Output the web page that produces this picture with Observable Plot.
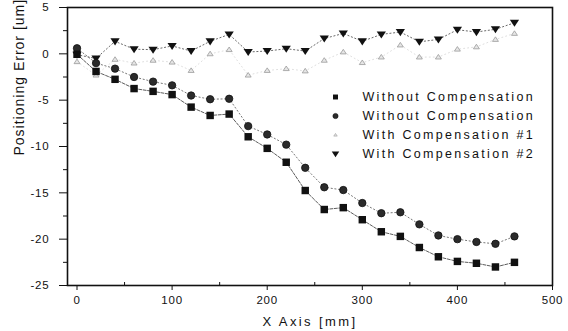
<!DOCTYPE html>
<html><head><meta charset="utf-8">
<script src="https://cdn.jsdelivr.net/npm/d3@7"></script>
<script src="https://cdn.jsdelivr.net/npm/@observablehq/plot@0.6"></script>
<style>body{margin:0;background:#fff} #chart{width:568px;height:331px}</style>
</head><body><div id="chart"></div>
<script>
const xPos = [0,20,40,60,80,100,120,140,160,180,200,220,240,260,280,300,320,340,360,380,400,420,440,460];
const withoutA = [-0.05,-1.9,-2.75,-3.75,-4.05,-4.4,-5.75,-6.65,-6.5,-8.95,-10.2,-11.7,-14.75,-16.8,-16.6,-17.9,-19.2,-19.7,-20.9,-21.9,-22.4,-22.6,-23.0,-22.5];
const withoutB = [0.6,-1.0,-1.6,-2.5,-3.0,-3.4,-4.5,-4.9,-4.85,-7.8,-8.7,-9.8,-12.3,-14.4,-14.7,-16.1,-17.2,-17.1,-18.4,-19.6,-20.0,-20.3,-20.5,-19.7];
const comp1 = [-0.85,-2.3,-0.6,-1.0,-0.7,-0.9,-1.8,0.0,0.45,-2.3,-1.8,-1.6,-1.85,-0.7,0.2,-0.95,-0.35,0.95,-0.35,-0.35,0.5,0.75,1.55,2.2];
const comp2 = [-0.1,-0.5,1.35,0.5,0.45,0.85,0.3,1.35,2.1,0.2,0.3,0.55,0.3,1.65,2.2,1.35,2.1,2.35,1.3,1.55,2.6,2.35,2.65,3.35];
const seriesNames = ["Without Compensation","Without Compensation","With Compensation #1","With Compensation #2"];
const xTicks = [0,100,200,300,400,500];
const xMinor = [50,150,250,350,450];
const yTicks = [5,0,-5,-10,-15,-20,-25];
const yMinor = [2.5,-2.5,-7.5,-12.5,-17.5,-22.5];
const xLabel = "X Axis [mm]";
const yLabel = "Positioning Error [um]";

const seriesValues = [withoutA, withoutB, comp1, comp2];
const downTri = {draw(ctx, size){const r=Math.sqrt(size/Math.PI); ctx.moveTo(-1.25*r,-0.8*r); ctx.lineTo(1.25*r,-0.8*r); ctx.lineTo(0,1.1*r); ctx.closePath();}};
const upTri = {draw(ctx, size){const r=Math.sqrt(size/Math.PI); ctx.moveTo(-1.25*r,0.8*r); ctx.lineTo(1.25*r,0.8*r); ctx.lineTo(0,-1.1*r); ctx.closePath();}};
const styles = [
  {symbol:"square", r:4.2, fill:"#111", stroke:"none", lineStroke:"#333", dash:"3,1.5", lw:0.8, lr:2.8},
  {symbol:"circle", r:3.7, fill:"#2b2b2b", stroke:"#111", lineStroke:"#555", dash:"1.2,2.5", lw:0.8, lr:2.6},
  {symbol:upTri, r:2.4, fill:"#e6e6e6", stroke:"#9a9a9a", lineStroke:"#c8c8c8", dash:"1,3", lw:0.6, lr:1.4},
  {symbol:downTri, r:3.7, fill:"#111", stroke:"none", lineStroke:"#444", dash:"1.2,2.5", lw:0.8, lr:3.0}
];
const data = seriesValues.map((vals, s) => xPos.map((x, i) => ({x, y: vals[i], s})));

const marks = [];
data.forEach((d, s) => {
  const st = styles[s];
  marks.push(Plot.line(d, {x:"x", y:"y", stroke: st.lineStroke, strokeWidth: st.lw, strokeDasharray: st.dash}));
});
[2,3,1,0].forEach(s => {
  const st = styles[s];
  marks.push(Plot.dot(data[s], {x:"x", y:"y", symbol: st.symbol, r: st.r, fill: st.fill, stroke: st.stroke, strokeWidth: 0.8}));
});
seriesNames.forEach((name, i) => {
  const st = styles[i];
  marks.push(Plot.dot([name], {frameAnchor:"top-left", dx:268, dy:89.5+19*i, symbol: st.symbol, r: st.lr, fill: st.fill, stroke: st.stroke, strokeWidth:0.6}));
  marks.push(Plot.text([name], {frameAnchor:"top-left", dx:295, dy:89.5+19*i, textAnchor:"start", lineAnchor:"middle", fontSize:12.5, fill:"#111", className:"legend-text"}));
});
marks.push(Plot.text([yLabel], {frameAnchor:"left", dx:-48, dy:9, rotate:-90, fontSize:14, fill:"#111", className:"ylabel-text"}));
marks.push(Plot.text([xLabel], {frameAnchor:"bottom", dy:36, lineAnchor:"middle", fontSize:13, fill:"#111", className:"xlabel-text"}));
marks.push(Plot.axisX({ticks: xTicks, tickSize:5, tickPadding:5, tickFormat: d => String(d), label:null, fontSize:11.5, className:"tick-text"}));
marks.push(Plot.axisX({ticks: xMinor, tickSize:-3, tickFormat: () => "", label:null}));
marks.push(Plot.axisY({ticks: yTicks, tickSize:8, tickPadding:10, tickFormat: d => String(d), label:null, fontSize:11.5, className:"tick-text"}));
marks.push(Plot.axisY({ticks: yMinor, tickSize:4, tickFormat: () => "", label:null}));
marks.push(Plot.frame({stroke:"#111", strokeWidth:1.6}));

const svg = Plot.plot({
  width:568, height:331,
  marginLeft:67, marginRight:16, marginTop:7, marginBottom:46,
  x:{domain:[-10,500]},
  y:{domain:[-25,5]},
  style:{fontFamily:"Arial, 'Liberation Sans', sans-serif", color:"#111", background:"#fff", overflow:"visible"},
  marks
});
document.getElementById("chart").appendChild(svg);
const sel = d3.select(svg);
sel.selectAll(".legend-text text, text.legend-text").style("letter-spacing","2.3px");
sel.selectAll(".xlabel-text text, text.xlabel-text").style("letter-spacing","2.4px");
sel.selectAll(".ylabel-text text, text.ylabel-text").style("letter-spacing","1px");
sel.selectAll(".tick-text text, text.tick-text").style("letter-spacing","0.8px");
</script></body></html>
